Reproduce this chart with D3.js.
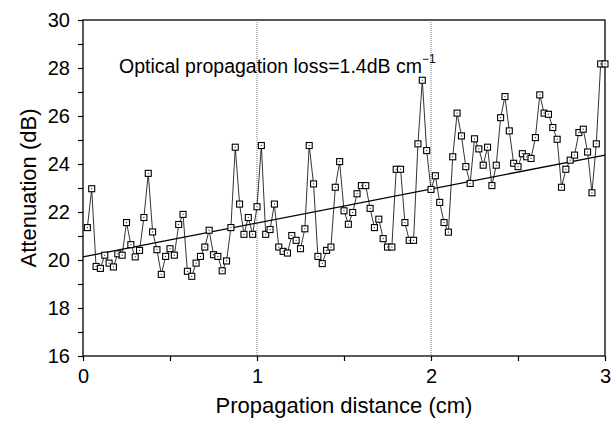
<!DOCTYPE html>
<html>
<head>
<meta charset="utf-8">
<script src="https://cdn.jsdelivr.net/npm/d3@7"></script>
<style>
  body { margin: 0; background: #fff; }
  text { font-family: "Liberation Sans", Arial, sans-serif; fill: #000; }
</style>
</head>
<body>
<svg id="chart" width="611" height="421"></svg>
<script>
// measured attenuation along the waveguide
var distance = [0.025,0.05,0.075,0.1,0.125,0.15,0.175,0.2,0.225,0.25,0.275,0.3,0.325,0.35,0.375,0.4,0.425,0.45,0.475,0.5,
  0.525,0.55,0.575,0.6,0.625,0.65,0.675,0.7,0.725,0.75,0.775,0.8,0.825,0.85,0.875,0.9,0.925,0.95,0.975,1.0,
  1.025,1.05,1.075,1.1,1.125,1.15,1.175,1.2,1.225,1.25,1.275,1.3,1.325,1.35,1.375,1.4,1.425,1.45,1.475,1.5,
  1.525,1.55,1.575,1.6,1.625,1.65,1.675,1.7,1.725,1.75,1.775,1.8,1.825,1.85,1.875,1.9,1.925,1.95,1.975,2.0,
  2.025,2.05,2.075,2.1,2.125,2.15,2.175,2.2,2.225,2.25,2.275,2.3,2.325,2.35,2.375,2.4,2.425,2.45,2.475,2.5,
  2.525,2.55,2.575,2.6,2.625,2.65,2.675,2.7,2.725,2.75,2.775,2.8,2.825,2.85,2.875,2.9,2.925,2.95,2.975,3.0];
var attenuation = [21.35,22.97,19.73,19.65,20.2,19.87,19.71,20.26,20.2,21.56,20.64,20.13,20.4,21.77,23.61,21.17,20.43,19.4,20.15,20.47,
  20.2,21.48,21.9,19.53,19.32,19.87,20.15,20.54,21.24,20.22,20.15,19.55,19.96,21.35,24.7,22.33,21.07,21.77,21.07,22.22,
  24.77,21.07,21.27,22.33,20.54,20.36,20.29,21.02,20.82,20.47,21.3,24.77,23.17,20.15,19.85,20.4,20.54,23.03,24.1,22.05,
  21.49,21.98,22.76,23.1,23.1,22.15,21.35,21.7,20.89,20.54,20.54,23.78,23.78,21.56,20.82,20.82,24.84,27.49,24.56,22.94,
  23.51,22.4,21.56,21.16,24.3,26.12,25.17,23.89,23.19,25.05,24.63,23.95,24.7,23.1,23.95,25.93,26.81,25.38,24.03,23.89,
  24.43,24.3,24.23,25.1,26.88,26.12,26.07,25.52,25.03,23.03,23.78,24.16,24.37,25.31,25.45,24.5,22.8,24.84,28.17,28.17];
// linear fit end points
var fitX = [0, 3];
var fitY = [20.13, 24.37];
var xTicks = [0, 1, 2, 3];
var yTicks = [16, 18, 20, 22, 24, 26, 28, 30];
var guideX = [1, 2];

var plotL = 83, plotR = 605, plotT = 20, plotB = 356;
var svg = d3.select("#chart");

var x = d3.scaleLinear().domain([0, 3]).range([plotL, plotR]);
var y = d3.scaleLinear().domain([16, 30]).range([plotB, plotT]);

// frame
svg.append("rect")
   .attr("x", plotL).attr("y", plotT)
   .attr("width", plotR - plotL).attr("height", plotB - plotT)
   .style("fill", "none").style("stroke", "#000").style("stroke-width", 1.3);

// dotted guides at 1 and 2 cm
svg.selectAll(".guide").data(guideX).enter()
   .append("line")
   .attr("x1", function(d){return x(d)}).attr("x2", function(d){return x(d)})
   .attr("y1", plotT).attr("y2", plotB)
   .style("stroke", "#555").style("stroke-width", 0.8).style("stroke-dasharray", "1,1");

// axes
var yAxis = d3.axisLeft(y).tickValues(d3.range(16, 30.5, 1)).tickSize(5)
   .tickFormat(function(d){ return yTicks.indexOf(d) >= 0 ? d : ""; });
var gy = svg.append("g").attr("transform", "translate(" + plotL + ",0)").call(yAxis);
gy.select(".domain").remove();
gy.selectAll("text").style("font-size", "20px").attr("x", -13);

var xAxis = d3.axisBottom(x).tickValues(d3.range(0, 3.01, 0.5)).tickSize(5)
   .tickFormat(function(d){ return xTicks.indexOf(d) >= 0 ? d : ""; });
var gx = svg.append("g").attr("transform", "translate(0," + plotB + ")").call(xAxis);
gx.select(".domain").remove();
gx.selectAll("text").style("font-size", "20px").attr("y", 13);
svg.selectAll(".tick line").style("stroke-width", 1.2);

// fit line
svg.append("line")
   .attr("x1", x(fitX[0])).attr("y1", y(fitY[0]))
   .attr("x2", x(fitX[1])).attr("y2", y(fitY[1]))
   .style("stroke", "#000").style("stroke-width", 1.3);

// data line
var pts = distance.map(function(d, i){ return [d, attenuation[i]]; });
svg.append("path")
   .datum(pts)
   .attr("d", d3.line().x(function(d){return x(d[0])}).y(function(d){return y(d[1])}))
   .style("fill", "none").style("stroke", "#000").style("stroke-width", 0.8);

// markers
var m = svg.selectAll(".pt").data(pts).enter().append("g")
   .attr("transform", function(d){ return "translate(" + x(d[0]) + "," + y(d[1]) + ")"; });
m.append("rect").attr("x", -3).attr("y", -3).attr("width", 6).attr("height", 6)
   .style("fill", "#fff").style("stroke", "#000").style("stroke-width", 1.1);
m.append("rect").attr("x", -0.5).attr("y", -0.5).attr("width", 1).attr("height", 1).style("fill", "#000");

// annotation
var note = svg.append("text").attr("x", 119).attr("y", 73).style("font-size", "19.5px");
note.append("tspan").text("Optical propagation loss=1.4dB cm");
note.append("tspan").attr("dy", -10).style("font-size", "12px").text("\u22121");

// titles
svg.append("text").attr("x", (plotL + plotR) / 2).attr("y", 413)
   .attr("text-anchor", "middle").style("font-size", "22px")
   .text("Propagation distance (cm)");
svg.append("text").attr("transform", "translate(36," + ((plotT + plotB) / 2) + ") rotate(-90)")
   .attr("text-anchor", "middle").style("font-size", "22px")
   .text("Attenuation (dB)");
</script>
</body>
</html>
